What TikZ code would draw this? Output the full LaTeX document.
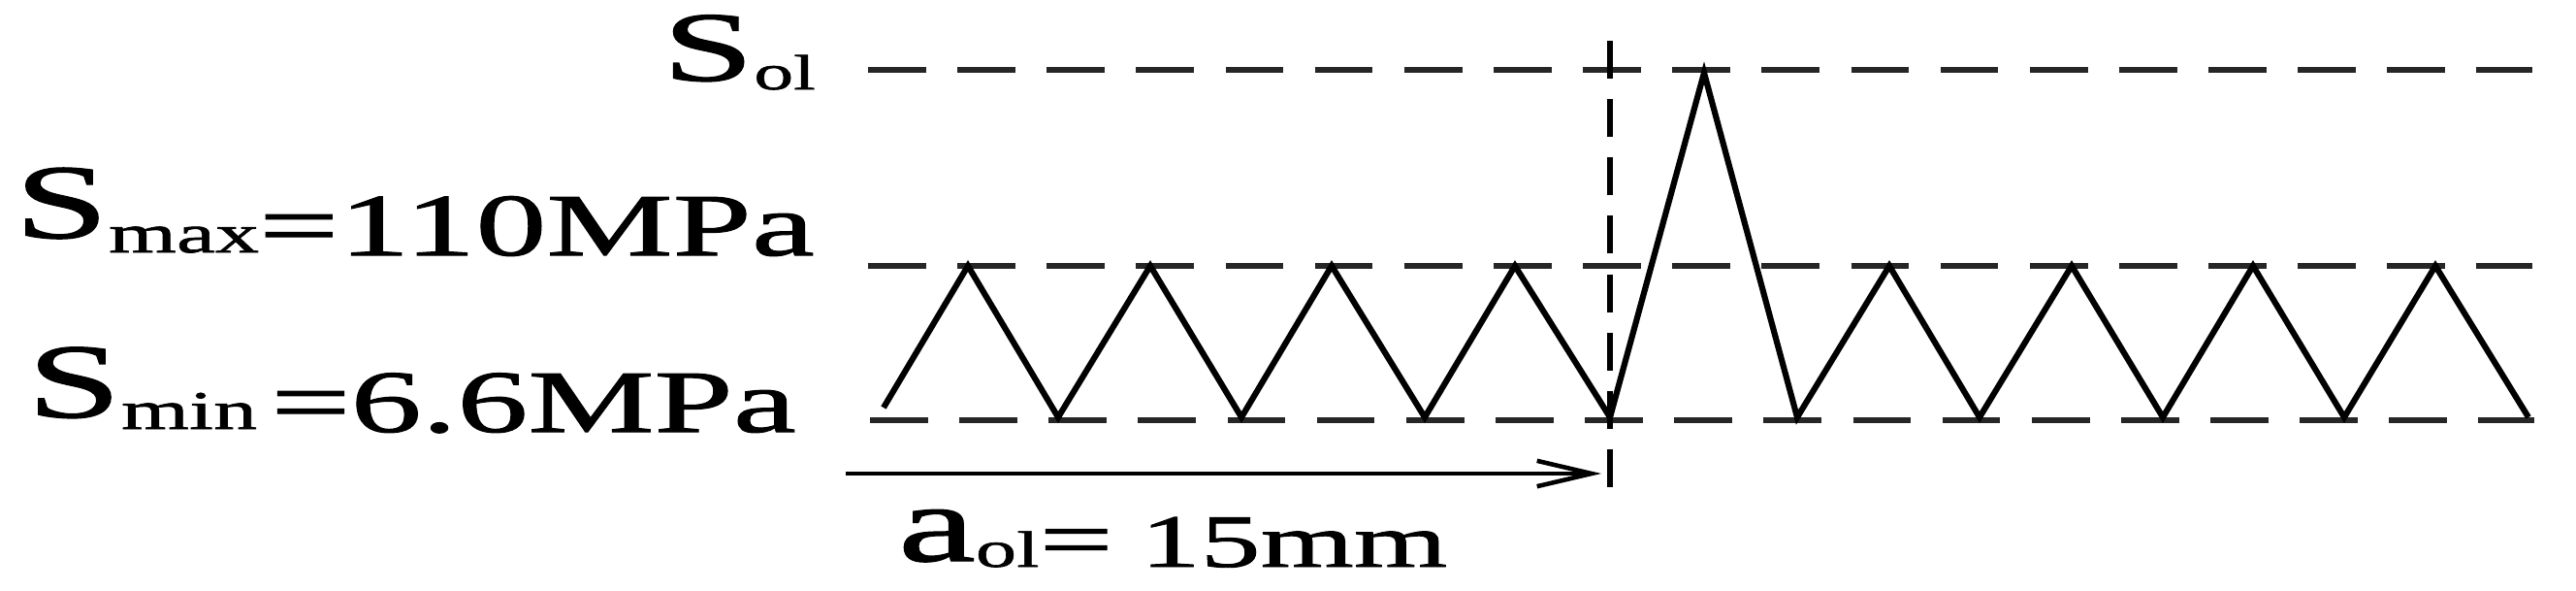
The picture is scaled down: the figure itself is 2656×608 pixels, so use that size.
\documentclass[tikz,border=0pt]{standalone}
\usepackage{fontspec}
\setmainfont{Liberation Serif}[FakeStretch=1.6,FakeBold=1.2]
\usetikzlibrary{arrows.meta}
\newcommand{\fs}[1]{\fontsize{#1}{#1}\selectfont}
\tikzset{
  levelline/.style={draw=black!85, line width=1.6pt, dash pattern=on 17pt off 9.2pt},
  markline/.style={draw=black, line width=1.8pt, dash pattern=on 11.1pt off 6pt},
  loadpath/.style={draw=black, line width=1.75pt, line join=miter, miter limit=20},
  dimarrow/.style={draw=black, line width=1.3pt, -{Straight Barb[length=16pt,width=7.5pt]}},
  lbl/.style={anchor=base west, inner sep=0pt, outer sep=0pt, text=black}
}
\begin{document}
\begin{tikzpicture}[x=0.01cm,y=-0.01cm]
\useasboundingbox (0,0) rectangle (2656,608);
% level lines
\coordinate (olL) at (895,72);   \coordinate (olR) at (2611,72);
\coordinate (mxL) at (895,274);  \coordinate (mxR) at (2611,274);
\coordinate (mnL) at (897,433);  \coordinate (mnR) at (2613,433);
\draw[levelline] (olL) -- (olR);
\draw[levelline] (mxL) -- (mxR);
\draw[levelline] (mnL) -- (mnR);
% vertical marker
\coordinate (vT) at (1660,42); \coordinate (vB) at (1660,504);
\draw[markline] (vT) -- (vB);
% load sequence
\coordinate (z0) at (911,420);
\coordinate (z1) at (998,274);
\coordinate (z2) at (1091,430);
\coordinate (z3) at (1186,274);
\coordinate (z4) at (1280,430);
\coordinate (z5) at (1373,274);
\coordinate (z6) at (1469,430);
\coordinate (z7) at (1562,274);
\coordinate (z8) at (1660,430);
\coordinate (z9) at (1757,75);
\coordinate (z10) at (1853,430);
\coordinate (z11) at (1948,274);
\coordinate (z12) at (2041,430);
\coordinate (z13) at (2136,274);
\coordinate (z14) at (2230,430);
\coordinate (z15) at (2323,274);
\coordinate (z16) at (2417,430);
\coordinate (z17) at (2511,274);
\coordinate (z18) at (2607,430);
\draw[loadpath] (z0) -- (z1) -- (z2) -- (z3) -- (z4) -- (z5) -- (z6) -- (z7) -- (z8)
  -- (z9) -- (z10) -- (z11) -- (z12) -- (z13) -- (z14) -- (z15) -- (z16) -- (z17) -- (z18);
% dimension arrow
\coordinate (aL) at (872,488); \coordinate (aR) at (1651,488);
\draw[dimarrow] (aL) -- (aR);
% labels
\node[lbl] (sol) at (683,92) {\raisebox{2.56pt}{\scalebox{1.04}[1]{\fs{29pt}S}}{\fs{14.5pt}ol}};
\node[lbl] (smax) at (15,263) {\raisebox{5.1pt}{\fs{31pt}S}\raisebox{0.85pt}{\fs{16pt}max}{\fs{26pt}=110MPa}};
\node[lbl] (smin) at (28,445) {\raisebox{4.3pt}{\fs{31pt}S}\raisebox{0.85pt}{\fs{16pt}min}\hspace{4pt}{\fs{26pt}=6.6MPa}};
\node[lbl] (aol) at (926,584) {\raisebox{1.7pt}{\fs{32pt}a}{\fs{15pt}ol}{\fs{24pt}=}\hspace{8pt}{\fs{22pt}15mm}};
\end{tikzpicture}
\end{document}
